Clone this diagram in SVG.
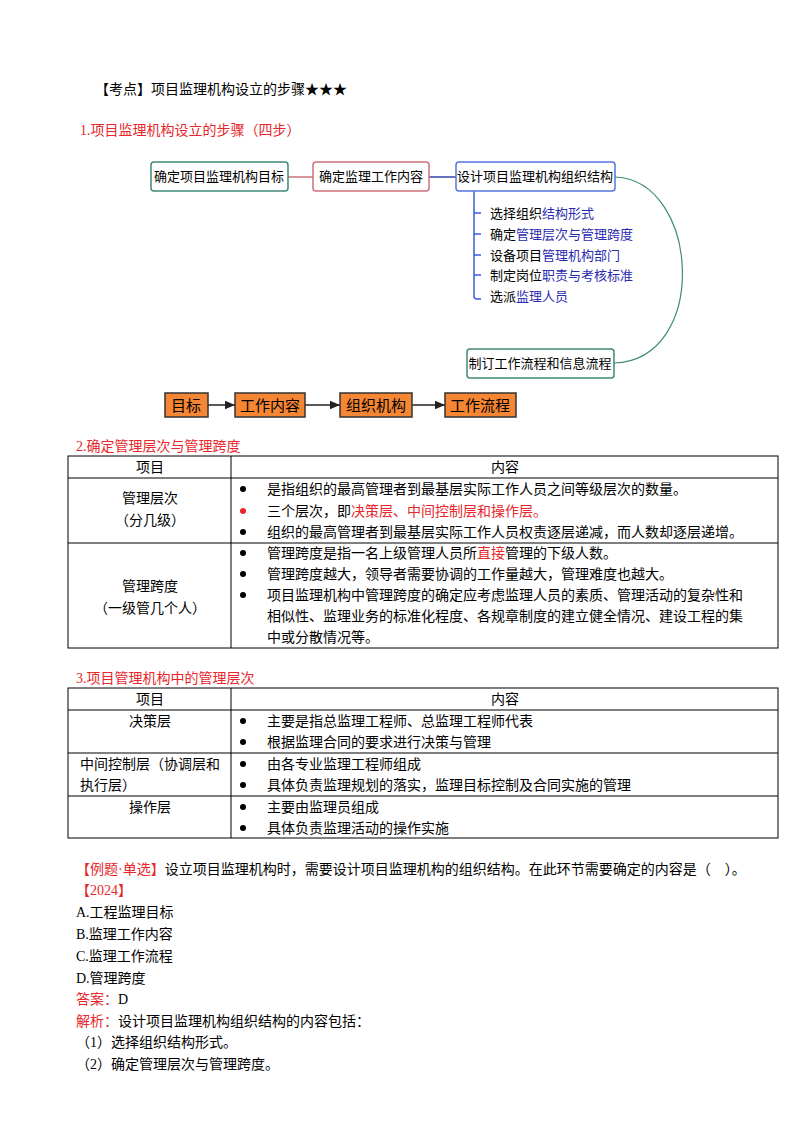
<svg xmlns="http://www.w3.org/2000/svg" width="800" height="1132" viewBox="0 0 800 1132">
<style>
text{font-family:"Liberation Serif","Noto Sans CJK SC",serif;font-size:14px;fill:#000}
.s{font-family:"Noto Sans CJK SC",sans-serif;font-size:13px}
.r{fill:#e8262b}
.b{fill:#2b2bb0}
.box{fill:#fff;stroke-width:1.5}
.ob{fill:#f58634;stroke:#333;stroke-width:1.5}
.ot{font-family:"Noto Sans CJK SC",sans-serif;font-size:15px;text-anchor:middle}
.tb{fill:none;stroke:#000;stroke-width:1}
.c{text-anchor:middle}
</style>
<defs><marker id="ah" markerWidth="8" markerHeight="8" refX="7" refY="4" orient="auto"><path d="M0,1L7,4L0,7z" fill="#222"/></marker></defs>
<rect width="800" height="1132" fill="#fff"/>
<text x="95" y="94">【考点】项目监理机构设立的步骤★★★</text>
<text x="80" y="135" class="r">1.项目监理机构设立的步骤（四步）</text>
<g id="connectors">
<line x1="288" y1="177" x2="313" y2="177" stroke="#c9737a" stroke-width="1.5"/>
<line x1="429" y1="177" x2="456" y2="177" stroke="#3344aa" stroke-width="1.5"/>
<path d="M615,177 C700,180 710,360 614,363" fill="none" stroke="#3f8a7a" stroke-width="1.2"/>
<path d="M474,191 V296 Q474,299 477,299 H481" fill="none" stroke="#3a5ce0" stroke-width="1.5"/>
<path d="M474,213H481M474,234H481M474,255H481M474,275H481" stroke="#3a5ce0" stroke-width="1.5"/>
<line x1="208" y1="405" x2="235" y2="405" stroke="#222" stroke-width="1.5" marker-end="url(#ah)"/>
<line x1="305" y1="405" x2="340" y2="405" stroke="#222" stroke-width="1.5" marker-end="url(#ah)"/>
<line x1="412" y1="405" x2="445" y2="405" stroke="#222" stroke-width="1.5" marker-end="url(#ah)"/>
</g>
<g id="n1"><rect x="151" y="162" width="137" height="29" rx="3" class="box" stroke="#3f8a7a"/><text x="219" y="181" class="s c">确定项目监理机构目标</text></g>
<g id="n2"><rect x="313" y="162" width="116" height="29" rx="3" class="box" stroke="#d0707a"/><text x="371" y="181" class="s c">确定监理工作内容</text></g>
<g id="n3"><rect x="456" y="162" width="159" height="29" rx="3" class="box" stroke="#5577dd"/><text x="535" y="181" class="s c">设计项目监理机构组织结构</text></g>
<g id="n4"><rect x="467" y="349" width="147" height="29" rx="3" class="box" stroke="#3f8a7a"/><text x="540" y="368" class="s c">制订工作流程和信息流程</text></g>
<g id="branches" class="s">
<text x="490" y="218" class="s">选择组织<tspan class="b">结构形式</tspan></text>
<text x="490" y="239" class="s">确定<tspan class="b">管理层次与管理跨度</tspan></text>
<text x="490" y="260" class="s">设备项目<tspan class="b">管理机构部门</tspan></text>
<text x="490" y="280" class="s">制定岗位<tspan class="b">职责与考核标准</tspan></text>
<text x="490" y="301" class="s">选派<tspan class="b">监理人员</tspan></text>
</g>
<g id="o1"><rect x="165" y="393" width="43" height="24" class="ob"/><text x="186" y="411" class="ot">目标</text></g>
<g id="o2"><rect x="235" y="393" width="70" height="24" class="ob"/><text x="270" y="411" class="ot">工作内容</text></g>
<g id="o3"><rect x="340" y="393" width="72" height="24" class="ob"/><text x="376" y="411" class="ot">组织机构</text></g>
<g id="o4"><rect x="445" y="393" width="71" height="24" class="ob"/><text x="480" y="411" class="ot">工作流程</text></g>

<text x="76" y="451" class="r">2.确定管理层次与管理跨度</text>
<g id="table1">
<rect x="68" y="456" width="710" height="192" class="tb"/>
<path d="M231,456V648M68,478H778M68,543H778" class="tb"/>
<text x="150" y="472" class="c">项目</text><text x="505" y="472" class="c">内容</text>
<text x="150" y="503" class="c">管理层次</text><text x="150" y="525" class="c">（分几级）</text>
<text x="150" y="591" class="c">管理跨度</text><text x="150" y="613" class="c">（一级管几个人）</text>
<circle cx="243" cy="489" r="3"/><text x="267" y="494">是指组织的最高管理者到最基层实际工作人员之间等级层次的数量。</text>
<circle cx="243" cy="511" r="3" fill="#e8262b"/><text x="267" y="516">三个层次，即<tspan class="r">决策层、中间控制层和操作层。</tspan></text>
<circle cx="243" cy="532" r="3"/><text x="267" y="537">组织的最高管理者到最基层实际工作人员权责逐层递减，而人数却逐层递增。</text>
<circle cx="243" cy="553" r="3"/><text x="267" y="558">管理跨度是指一名上级管理人员所<tspan class="r">直接</tspan>管理的下级人数。</text>
<circle cx="243" cy="574" r="3"/><text x="267" y="579">管理跨度越大，领导者需要协调的工作量越大，管理难度也越大。</text>
<circle cx="243" cy="595" r="3"/><text x="267" y="600">项目监理机构中管理跨度的确定应考虑监理人员的素质、管理活动的复杂性和</text>
<text x="267" y="621">相似性、监理业务的标准化程度、各规章制度的建立健全情况、建设工程的集</text>
<text x="267" y="642">中或分散情况等。</text>
</g>

<text x="76" y="683" class="r">3.项目管理机构中的管理层次</text>
<g id="table2">
<rect x="68" y="688" width="710" height="150" class="tb"/>
<path d="M231,688V838M68,710H778M68,753H778M68,796H778" class="tb"/>
<text x="150" y="704" class="c">项目</text><text x="505" y="704" class="c">内容</text>
<text x="150" y="726" class="c">决策层</text>
<text x="80" y="769">中间控制层（协调层和</text><text x="80" y="790">执行层）</text>
<text x="150" y="812" class="c">操作层</text>
<circle cx="243" cy="721" r="3"/><text x="267" y="726">主要是指总监理工程师、总监理工程师代表</text>
<circle cx="243" cy="742" r="3"/><text x="267" y="747">根据监理合同的要求进行决策与管理</text>
<circle cx="243" cy="764" r="3"/><text x="267" y="769">由各专业监理工程师组成</text>
<circle cx="243" cy="785" r="3"/><text x="267" y="790">具体负责监理规划的落实，监理目标控制及合同实施的管理</text>
<circle cx="243" cy="807" r="3"/><text x="267" y="812">主要由监理员组成</text>
<circle cx="243" cy="828" r="3"/><text x="267" y="833">具体负责监理活动的操作实施</text>
</g>

<text x="76" y="874"><tspan class="r">【例题·单选】</tspan>设立项目监理机构时，需要设计项目监理机构的组织结构。在此环节需要确定的内容是（　）。</text>
<text x="76" y="895" class="r">【2024】</text>
<text x="76" y="917">A.工程监理目标</text>
<text x="76" y="939">B.监理工作内容</text>
<text x="76" y="961">C.监理工作流程</text>
<text x="76" y="983">D.管理跨度</text>
<text x="76" y="1004"><tspan class="r">答案：</tspan>D</text>
<text x="76" y="1026"><tspan class="r">解析：</tspan>设计项目监理机构组织结构的内容包括：</text>
<text x="76" y="1047">（1）选择组织结构形式。</text>
<text x="76" y="1069">（2）确定管理层次与管理跨度。</text>
</svg>
